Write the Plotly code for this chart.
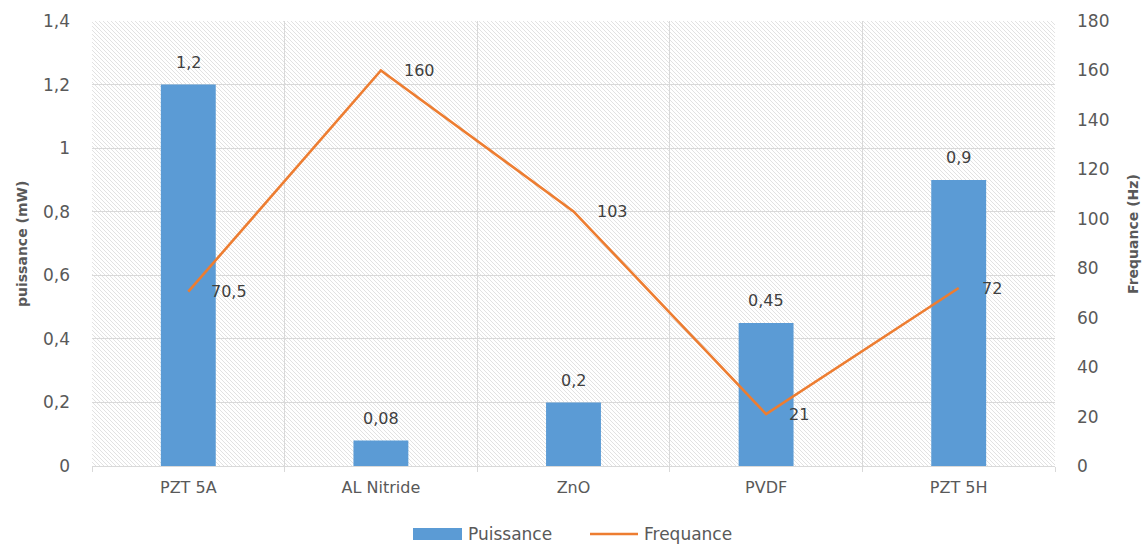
import numpy as np
import plotly.graph_objects as go

# Data
materials = ["PZT 5A", "AL Nitride", "ZnO", "PVDF", "PZT 5H"]
puissance_mw = [1.2, 0.08, 0.2, 0.45, 0.9]
frequence_hz = [70.5, 160, 103, 21, 72]

# Figure geometry (pixels)
W, H = 1147, 545
L, R, T, B = 92, 92, 21, 79
PW, PH = W - L - R, H - T - B

BLUE = "#5B9BD5"
ORANGE = "#ED7D31"
GRID = "#d9d9d9"
TEXT = "#595959"
LABEL = "#404040"
FONT = "DejaVu Sans"
FS = 17


def fr(v):
    """Format a number with a decimal comma."""
    return f"{v:g}".replace(".", ",")


def px_x(px):
    return (px - L) / PW


def px_y(py):
    return (H - B - py) / PH


fig = go.Figure()

fig.add_trace(go.Bar(
    x=materials, y=puissance_mw, name="Puissance",
    marker=dict(color=BLUE, line=dict(width=0)),
    width=0.285, yaxis="y", showlegend=False,
))
fig.add_trace(go.Scatter(
    x=materials, y=frequence_hz, name="Frequance",
    mode="lines", line=dict(color=ORANGE, width=2.6),
    yaxis="y2", showlegend=False,
))

annotations = []
# values above the bars
for m, v in zip(materials, puissance_mw):
    annotations.append(dict(
        x=m, y=v, xref="x", yref="y", text=fr(v), showarrow=False,
        yanchor="middle", xanchor="center", yshift=22,
        font=dict(family=FONT, size=FS - 1, color=LABEL),
    ))
# values beside the line points
for m, v in zip(materials, frequence_hz):
    annotations.append(dict(
        x=m, y=v, xref="x", yref="y2", text=fr(v), showarrow=False,
        yanchor="middle", xanchor="left", xshift=21,
        font=dict(family=FONT, size=FS - 1, color=LABEL),
    ))

# Axis titles
annotations.append(dict(
    x=px_x(22), y=px_y(244), xref="paper", yref="paper", text="<b>puissance (mW)</b>",
    textangle=-90, showarrow=False, xanchor="center", yanchor="middle",
    font=dict(family=FONT, size=14, color=TEXT),
))
annotations.append(dict(
    x=px_x(1133), y=px_y(234), xref="paper", yref="paper", text="<b>Frequance (Hz)</b>",
    textangle=-90, showarrow=False, xanchor="center", yanchor="middle",
    font=dict(family=FONT, size=14, color=TEXT),
))

# Legend entries
annotations.append(dict(
    x=px_x(466), y=px_y(534), xref="paper", yref="paper", text="Puissance",
    showarrow=False, xanchor="left", yanchor="middle",
    font=dict(family=FONT, size=FS, color=TEXT),
))
annotations.append(dict(
    x=px_x(642), y=px_y(534), xref="paper", yref="paper", text="Frequance",
    showarrow=False, xanchor="left", yanchor="middle",
    font=dict(family=FONT, size=FS, color=TEXT),
))

shapes = []
# diagonal hatching behind the plot area
step = 4.0
segs = []
for k in np.arange(-PH, PW, step):
    x0 = max(0.0, k)
    x1 = min(float(PW), k + PH)
    if x1 <= x0:
        continue
    y0, y1 = x0 - k, x1 - k
    segs.append(f"M{px_x(L + x0):.5f},{px_y(T + y0):.5f}L{px_x(L + x1):.5f},{px_y(T + y1):.5f}")
shapes.append(dict(
    type="path", path="".join(segs), xref="paper", yref="paper",
    line=dict(color="#e2e2e2", width=1), layer="below",
))
# legend symbols
shapes.append(dict(
    type="rect", xref="paper", yref="paper",
    x0=px_x(413), x1=px_x(462), y0=px_y(540), y1=px_y(528),
    fillcolor=BLUE, line=dict(width=0),
))
shapes.append(dict(
    type="line", xref="paper", yref="paper",
    x0=px_x(590), x1=px_x(638), y0=px_y(534), y1=px_y(534),
    line=dict(color=ORANGE, width=2.6),
))

fig.update_layout(
    width=W, height=H,
    margin=dict(l=L, r=R, t=T, b=B, pad=0),
    paper_bgcolor="white", plot_bgcolor="rgba(0,0,0,0)",
    separators=", ",
    font=dict(family=FONT, size=FS, color=TEXT),
    bargap=0.7,
    showlegend=False,
    xaxis=dict(
        type="category", range=[-0.5, 4.5], tickson="boundaries",
        showgrid=True, gridcolor=GRID, gridwidth=1,
        showline=True, linecolor=GRID, linewidth=1,
        ticks="outside", ticklen=5, tickcolor=GRID,
        ticklabelstandoff=7,
        tickfont=dict(family=FONT, size=FS - 1, color=TEXT),
    ),
    yaxis=dict(
        range=[0, 1.4], dtick=0.2, tick0=0,
        showgrid=True, gridcolor=GRID, gridwidth=1,
        zeroline=False, showline=False, ticks="",
        ticklabelstandoff=21,
        tickfont=dict(family=FONT, size=FS, color=TEXT),
    ),
    yaxis2=dict(
        range=[0, 180], dtick=20, tick0=0, overlaying="y", side="right",
        showgrid=False, zeroline=False, showline=False, ticks="",
        ticklabelstandoff=21,
        tickfont=dict(family=FONT, size=FS, color=TEXT),
    ),
    annotations=annotations,
    shapes=shapes,
)

fig.write_html("out.html")
